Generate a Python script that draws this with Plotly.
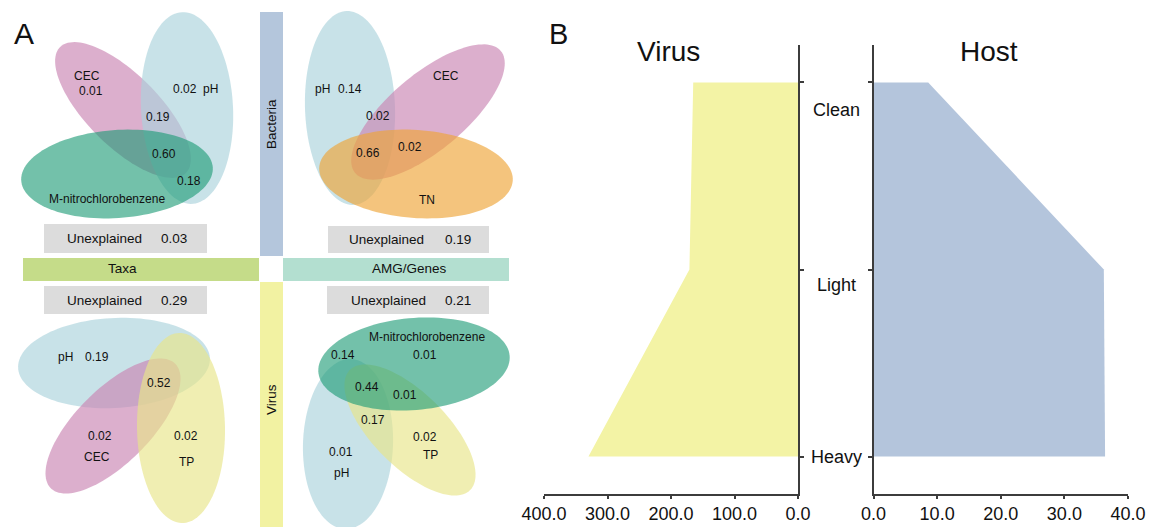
import numpy as np
import plotly.graph_objects as go

W, H = 1155, 527
FONT = "Liberation Sans, Arial, sans-serif"
AX = "#3c3c3c"

# ---------------- data ----------------
levels = ["Clean", "Light", "Heavy"]
virus_values = [165, 171, 330]
host_values = [8.6, 36.2, 36.4]
virus_ticks = [0, 100, 200, 300, 400]
host_ticks = [0, 10, 20, 30, 40]

block_names = ["Bacteria", "Virus", "Taxa", "AMG/Genes"]
unexplained_values = [0.03, 0.19, 0.29, 0.21]

venn_tb_text = ["CEC", "0.01", "0.02", "pH", "0.19", "0.60", "0.18", "M-nitrochlorobenzene"]
venn_gb_text = ["pH", "0.14", "CEC", "0.02", "0.66", "0.02", "TN"]
venn_tv_text = ["pH", "0.19", "0.52", "0.02", "CEC", "0.02", "TP"]
venn_gv_text = ["M-nitrochlorobenzene", "0.14", "0.01", "0.44", "0.01", "0.17", "0.02", "TP", "0.01", "pH"]

# ---------------- layout geometry (pixels) ----------------
venn_tb_pos = [(87, 76), (91, 91), (185, 89), (210, 89), (158, 117), (164, 154), (189, 181), (107, 199)]
venn_gb_pos = [(322, 89), (350, 89), (446, 76), (378, 116), (368, 153), (410, 147), (427, 200)]
venn_tv_pos = [(65, 357), (97, 357), (159, 383), (100, 436), (97, 457), (186, 436), (186, 462)]
venn_gv_pos = [(427, 337), (343, 355), (425, 355), (367, 387), (405, 395), (373, 420), (425, 437),
               (430, 455), (341, 452), (341, 473)]

BLUE = "rgba(170,210,220,0.65)"
PINK = "rgba(201,132,178,0.65)"
TEAL = "rgba(29,155,118,0.62)"
ORANGE = "rgba(238,164,55,0.65)"
YELLOW = "rgba(232,229,137,0.65)"

ellipses = [
    # top-left (Taxa / Bacteria)
    (123, 110, 89, 36, -45, PINK),
    (187, 108, 96, 46, 93, BLUE),
    (117, 174, 96, 44, 4, TEAL),
    # top-right (AMG / Bacteria)
    (350, 108, 97, 45, 92, BLUE),
    (428, 112, 95, 38, 40, PINK),
    (416, 174, 97, 44, -4, ORANGE),
    # bottom-left (Taxa / Virus)
    (114, 363, 96, 45, 3, BLUE),
    (113, 426, 88, 37, 45, PINK),
    (181, 428, 95, 44, 91, YELLOW),
    # bottom-right (AMG / Virus)
    (348, 444, 85, 45, 88, BLUE),
    (410, 430, 85, 37, -45, YELLOW),
    (414, 364, 96, 46, 5, TEAL),
]

bar_rects = [  # x0, y0, x1, y1, color
    (260, 12, 283, 256, "#b4c6dc"),
    (260, 282, 283, 527, "#f2f2a2"),
    (23, 258, 259, 281, "#c5dc89"),
    (283, 258, 509, 281, "#b3dfd0"),
]
grey_rects = [(44, 224, 207, 253), (328, 226, 489, 253), (44, 286, 207, 314), (327, 286, 489, 314)]
unexpl_pos = [((104, 238), (174, 238)), ((386, 239), (458, 239)),
              ((104, 300), (174, 300)), ((388, 300), (458, 300))]
block_pos = [(271, 124, -90), (271, 400, -90), (122, 269, 0), (409, 269, 0)]


def px(x):
    return x / W


def py(y):
    return 1 - y / H


def ellipse_path(cx, cy, a, b, ang):
    t = np.linspace(0, 2 * np.pi, 120)
    th = np.deg2rad(ang)
    ex = cx + a * np.cos(t) * np.cos(th) - b * np.sin(t) * np.sin(th)
    ey = cy - (a * np.cos(t) * np.sin(th) + b * np.sin(t) * np.cos(th))
    pts = [f"{px(x):.5f},{py(y):.5f}" for x, y in zip(ex, ey)]
    return "M " + " L ".join(pts) + " Z"


shapes = []
annotations = []

for x0, y0, x1, y1, c in bar_rects:
    shapes.append(dict(type="rect", xref="paper", yref="paper", x0=px(x0), x1=px(x1),
                       y0=py(y1), y1=py(y0), fillcolor=c, line=dict(width=0)))
for x0, y0, x1, y1 in grey_rects:
    shapes.append(dict(type="rect", xref="paper", yref="paper", x0=px(x0), x1=px(x1),
                       y0=py(y1), y1=py(y0), fillcolor="#dcdcdc", line=dict(width=0)))
for cx, cy, a, b, ang, c in ellipses:
    shapes.append(dict(type="path", xref="paper", yref="paper", path=ellipse_path(cx, cy, a, b, ang),
                       fillcolor=c, line=dict(width=0)))


def add_text(x, y, text, size, angle=0):
    annotations.append(dict(x=px(x), y=py(y), xref="paper", yref="paper", text=text, showarrow=False,
                            xanchor="center", yanchor="middle", textangle=angle,
                            font=dict(family=FONT, size=size, color="#111111")))


for texts, poss in [(venn_tb_text, venn_tb_pos), (venn_gb_text, venn_gb_pos),
                    (venn_tv_text, venn_tv_pos), (venn_gv_text, venn_gv_pos)]:
    for t, (x, y) in zip(texts, poss):
        add_text(x, y, t, 12)

for v, ((x1, y1), (x2, y2)) in zip(unexplained_values, unexpl_pos):
    add_text(x1, y1, "Unexplained", 13.5)
    add_text(x2, y2, f"{v:.2f}", 13.5)

for name, (x, y, ang) in zip(block_names, block_pos):
    add_text(x, y, name, 13.5, ang)

add_text(24, 34, "A", 30)
add_text(558, 34, "B", 29)
add_text(668, 51, "Virus", 28)
add_text(989, 51, "Host", 28)

level_label_pos = [(836, 110), (836, 285), (836, 457)]
for lab, (x, y) in zip(levels, level_label_pos):
    add_text(x, y, lab, 18)

# ---------------- panel B traces ----------------
ylev = list(range(len(levels)))
fig = go.Figure()
fig.add_trace(go.Scatter(x=virus_values, y=ylev, mode="lines", fill="tozerox",
                         fillcolor="#f3f3a5", line=dict(width=0, color="#f3f3a5"),
                         xaxis="x", yaxis="y", hoverinfo="skip", showlegend=False))
fig.add_trace(go.Scatter(x=host_values, y=ylev, mode="lines", fill="tozerox",
                         fillcolor="#b4c5dc", line=dict(width=0, color="#b4c5dc"),
                         xaxis="x2", yaxis="y2", hoverinfo="skip", showlegend=False))

ydom = [1 - 494 / H, 1 - 45 / H]
common_x = dict(showline=True, linecolor=AX, linewidth=1.5, ticks="outside", ticklen=3,
                tickwidth=1.5, tickcolor=AX, showgrid=False, zeroline=False, automargin=False,
                tickfont=dict(family=FONT, size=18, color="#111111"))
common_y = dict(showline=True, linecolor=AX, linewidth=1.5, ticks="outside", ticklen=4,
                tickwidth=1.5, tickcolor=AX, showgrid=False, zeroline=False, automargin=False,
                showticklabels=False, tickvals=ylev, range=[2.2, -0.2], domain=ydom)

fig.update_layout(
    width=W, height=H,
    autosize=False,
    margin=dict(l=0, r=0, t=0, b=0, pad=0, autoexpand=False),
    paper_bgcolor="white", plot_bgcolor="white",
    xaxis=dict(domain=[544 / W, 798 / W], range=[400, 0], anchor="y",
               tickvals=virus_ticks, ticktext=[f"{v:.1f}" for v in virus_ticks], **common_x),
    xaxis2=dict(domain=[873.5 / W, 1128 / W], range=[0, 40], anchor="y2",
                tickvals=host_ticks, ticktext=[f"{v:.1f}" for v in host_ticks], **common_x),
    yaxis=dict(anchor="x", side="right", **common_y),
    yaxis2=dict(anchor="x2", side="left", **common_y),
    shapes=shapes,
    annotations=annotations,
)

fig.write_html("out.html", config={"displayModeBar": False},
               post_script="document.body.style.margin='0';document.body.style.overflow='hidden';")
